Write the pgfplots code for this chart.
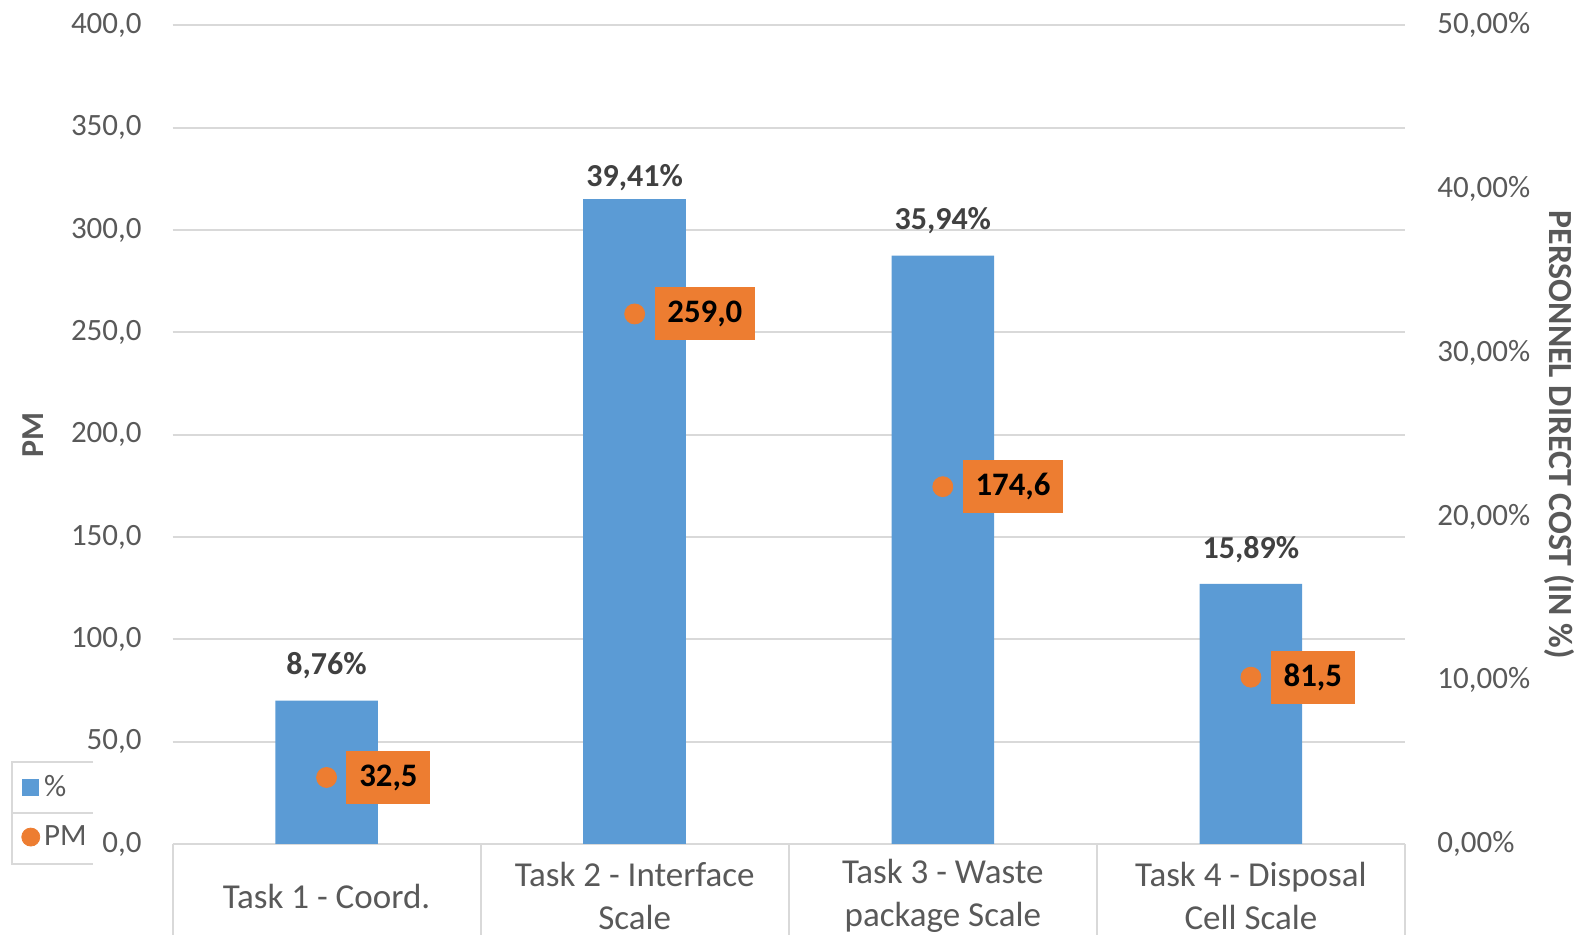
\documentclass[border=0pt]{standalone}
\usepackage{pgfplots}
\pgfplotsset{compat=1.18}
\usepackage{fontspec}
\setmainfont{Carlito}
\definecolor{barblue}{HTML}{5B9BD5}
\definecolor{dotorange}{HTML}{ED7D31}
\definecolor{txtgray}{HTML}{595959}
\definecolor{lblgray}{HTML}{404040}
\definecolor{gridgray}{HTML}{D9D9D9}
\pgfplotsset{
  common/.style={
    scale only axis, width=616.25pt, height=409.3pt,
    at={(86.25pt,45.5pt)}, anchor=south west,
    xmin=-0.5, xmax=3.5,
    axis line style={draw=none},
    major tick length=0pt,
    /pgf/number format/assume math mode=true,
  },
  barstyle/.style={ybar, bar width=51.25pt, bar shift=0pt, fill=barblue, draw=none,
    nodes near coords={\pgfmathprintnumber[fixed,fixed zerofill,precision=2,use comma]{\pgfplotspointmeta}\%},
    every node near coord/.append style={font=\bfseries\fontsize{16pt}{19pt}\selectfont, text=lblgray, inner sep=0pt}},
}
\begin{document}
\begin{tikzpicture}
\useasboundingbox (0,0) rectangle (795.5pt,467.5pt);
\clip (0,0) rectangle (795.5pt,467.5pt);
% grid, left ticks, categories
\begin{axis}[common,
  ymin=0, ymax=400, ytick={0,50,...,400},
  ymajorgrids, grid style={draw=gridgray, line width=1pt},
  ytick pos=left, xtick pos=left, tick align=outside,
  xtick={0,1,2,3},
  xticklabels={{Task 1 - Coord.},{Task 2 - Interface\\Scale},{Task 3 - Waste\\package Scale},{Task 4 - Disposal\\Cell Scale}},
  minor xtick={-0.5,0.5,1.5,2.5,3.5},
  minor tick length=100pt,
  minor x tick style={draw=gridgray, line width=1pt},
  xticklabel style={font=\fontsize{17.5pt}{21.85pt}\selectfont, text=txtgray, align=center, anchor=center, yshift=-26pt},
  yticklabel style={font=\fontsize{15.5pt}{18pt}\selectfont, text=txtgray, anchor=east, inner sep=0pt, xshift=-15.25pt},
  yticklabel={\pgfmathprintnumber[fixed,fixed zerofill,precision=1,use comma]{\tick}},
  ylabel={PM},
  every axis y label/.style={at={(axis description cs:-0.1128,0.5)}, rotate=90, anchor=center, font=\bfseries\fontsize{16pt}{19pt}\selectfont, text=txtgray},
]
\addplot[draw=none, forget plot] coordinates {(0,0)};
\end{axis}
% bars on right axis
\begin{axis}[common,
  ymin=0, ymax=50, ytick={0,10,...,50}, ytick pos=right, yticklabel pos=right,
  xtick=\empty,
  yticklabel style={font=\fontsize{15.5pt}{18pt}\selectfont, text=txtgray, anchor=west, inner sep=0pt, xshift=16pt},
  yticklabel={\pgfmathprintnumber[fixed,fixed zerofill,precision=2,use comma]{\tick}\%},
  ylabel={PERSONNEL DIRECT COST (IN \%)},
  every axis y label/.style={at={(axis description cs:1.1254,0.5)}, rotate=-90, anchor=center, font=\bfseries\fontsize{16.9pt}{19pt}\selectfont, text=txtgray},
]
\addplot[barstyle, every node near coord/.append style={yshift=10.5pt}]
  coordinates {(0,8.76) (2,35.94) (3,15.89)};
\addplot[barstyle, every node near coord/.append style={yshift=4pt}]
  coordinates {(1,39.41)};
\end{axis}
% PM points
\begin{axis}[common, ymin=0, ymax=400, hide axis,
  legend style={at={(axis description cs:-0.0945,0.039)}, anchor=center, draw=none, fill=none,
    font=\fontsize{15.5pt}{18pt}\selectfont, text=txtgray, row sep=0pt,
    nodes={minimum height=25pt, inner sep=2pt}},
  legend cell align=left,
]
\addlegendimage{legend image code/.code={\fill[barblue] (0pt,-4pt) rectangle (8pt,4pt);}}
\addlegendentry{\%}
\addplot[only marks, mark=*, mark size=5pt, color=dotorange, mark options={fill=dotorange, draw=dotorange},
  nodes near coords={\pgfmathprintnumber[fixed,fixed zerofill,precision=1,use comma]{\pgfplotspointmeta}},
  every node near coord/.append style={anchor=west, xshift=9.75pt, fill=dotorange, text=black, font=\bfseries\fontsize{16.4pt}{19pt}\selectfont, inner xsep=6.4pt, inner ysep=0pt, minimum height=26.5pt},
  legend image code/.code={\fill[dotorange] (4pt,0pt) circle (4.5pt);}]
  coordinates {(0,32.5) (1,259.0) (2,174.6) (3,81.5)};
\addlegendentry{PM}
\end{axis}
\draw[draw=gridgray, line width=1pt] (46.5pt,86.5pt) -- (6pt,86.5pt) -- (6pt,35.5pt) -- (46.5pt,35.5pt);
\draw[draw=gridgray, line width=1pt] (6pt,61pt) -- (46.5pt,61pt);
\end{tikzpicture}
\end{document}
